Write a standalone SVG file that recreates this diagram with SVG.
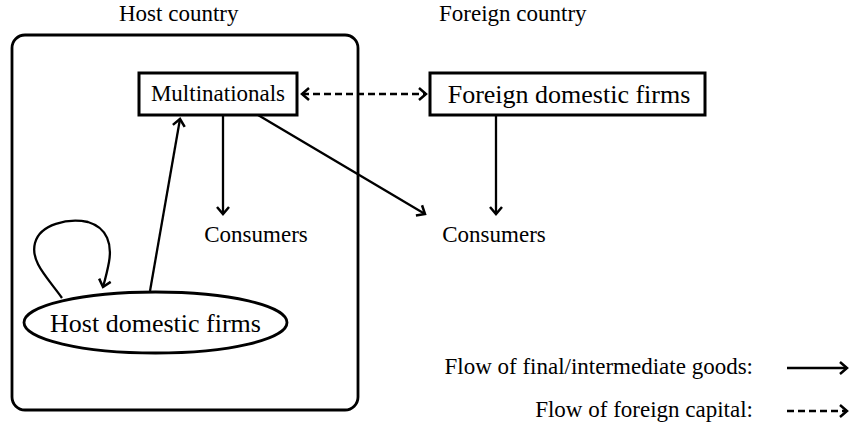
<svg xmlns="http://www.w3.org/2000/svg" width="854" height="427" viewBox="0 0 854 427">
<defs>
<style>
text{font-family:"Liberation Serif","Times New Roman",serif;fill:#000}
.s{font-size:23px}
.l{font-size:26px}
.box{fill:#fff;stroke:#000;stroke-width:3}
.ln{fill:none;stroke:#000;stroke-width:2.3}
.dash{stroke-dasharray:7,4;stroke-width:2.5}
</style>
<marker id="ah" markerUnits="userSpaceOnUse" markerWidth="20" markerHeight="20" viewBox="-10 -10 20 20" refX="0" refY="0" orient="auto-start-reverse">
<path d="M-7,-6 L0,0 L-7,6" fill="none" stroke="#000" stroke-width="2.5" stroke-linejoin="miter"/>
</marker>
</defs>
<rect width="854" height="427" fill="#fff"/>
<text class="s" x="119" y="21">Host country</text>
<text class="s" x="439" y="21">Foreign country</text>
<rect x="12" y="35" width="346" height="375" rx="13" fill="none" stroke="#000" stroke-width="2.8"/>
<g id="connectors">
<line class="ln dash" x1="302" y1="94" x2="426" y2="94" marker-start="url(#ah)" marker-end="url(#ah)"/>
<line class="ln" x1="223" y1="115" x2="223" y2="214" marker-end="url(#ah)"/>
<line class="ln" x1="258" y1="115" x2="425" y2="214" marker-end="url(#ah)"/>
<line class="ln" x1="496" y1="115" x2="496" y2="214" marker-end="url(#ah)"/>
<line class="ln" x1="150" y1="291" x2="180" y2="119" marker-end="url(#ah)"/>
<path class="ln" d="M62,298 C48,278 30,262 35,243 C40,224 68,218 88,222 C108,228 112,245 109,262 C107,273 105,280 103,287" marker-end="url(#ah)"/>
<line class="ln" x1="787" y1="368" x2="847" y2="368" marker-end="url(#ah)"/>
<line class="ln dash" x1="787" y1="411" x2="847" y2="411" marker-end="url(#ah)"/>
</g>
<g id="multinationals">
<rect class="box" x="139" y="73" width="158" height="42"/>
<text class="s" x="218" y="101" text-anchor="middle">Multinationals</text>
</g>
<g id="foreign-firms">
<rect class="box" x="430" y="73" width="275" height="42"/>
<text class="l" x="569" y="103" text-anchor="middle">Foreign domestic firms</text>
</g>
<g id="host-consumers">
<text class="s" x="256" y="242" text-anchor="middle">Consumers</text>
</g>
<g id="foreign-consumers">
<text class="s" x="494" y="242" text-anchor="middle">Consumers</text>
</g>
<g id="host-firms">
<ellipse cx="155.5" cy="322.5" rx="131.5" ry="30.5" fill="#fff" stroke="#000" stroke-width="2.8"/>
<text class="l" x="155.5" y="332" text-anchor="middle">Host domestic firms</text>
</g>
<g id="legend">
<text class="s" x="753" y="374" text-anchor="end">Flow of final/intermediate goods:</text>
<text class="s" x="753" y="417" text-anchor="end">Flow of foreign capital:</text>
</g>
</svg>
